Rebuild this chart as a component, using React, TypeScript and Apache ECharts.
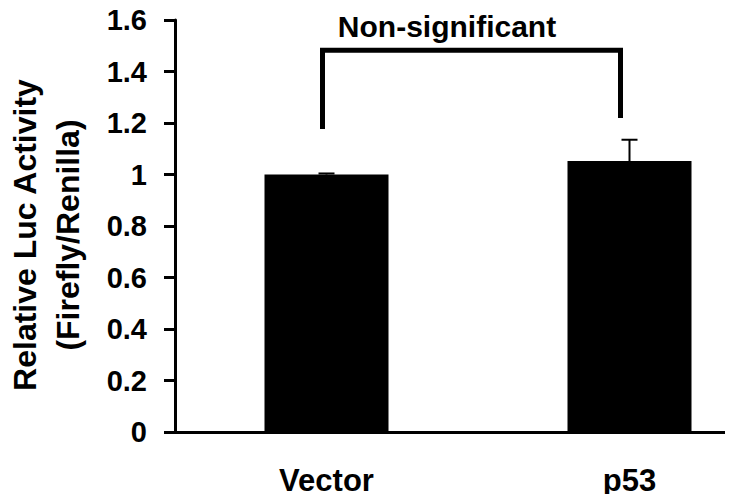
import React, { useEffect, useRef } from "react";
import * as echarts from "echarts";

const categories = ["Vector", "p53"];
const means = [1.0, 1.052];
const errors = [0.004, 0.083];
const yTicks = { min: 0, max: 1.6, interval: 0.2 };
// bracket: [leftCategory, rightCategory, top, leftBottom, rightBottom]
const bracket = [[0, 1, 1.483, 1.177, 1.219]];
const bracketLabel = "Non-significant";
const yName = "Relative Luc Activity\n(Firefly/Renilla)";

const FONT = "'Liberation Sans', Arial, sans-serif";

export default function App() {
  const ref = useRef<HTMLDivElement>(null);
  useEffect(() => {
    if (!ref.current) return;
    const chart = echarts.init(ref.current, undefined, { renderer: "svg" });
    chart.setOption({
      animation: false,
      backgroundColor: "#ffffff",
      grid: {
        left: 175,
        width: 606,
        top: 20,
        bottom: 70,
        containLabel: false,
        outerBoundsMode: "none",
      },
      graphic: [
        {
          type: "text",
          x: 447,
          y: 26,
          style: {
            text: bracketLabel,
            font: `bold 30px ${FONT}`,
            fill: "#000",
            textAlign: "center",
            textVerticalAlign: "middle",
          },
        },
      ],
      xAxis: {
        type: "category",
        data: categories,
        axisLine: { lineStyle: { color: "#000", width: 3 } },
        axisTick: { show: false },
        axisLabel: {
          color: "#000",
          fontFamily: FONT,
          fontWeight: "bold",
          fontSize: 31,
          margin: 33,
        },
      },
      yAxis: {
        type: "value",
        min: yTicks.min,
        max: yTicks.max,
        interval: yTicks.interval,
        name: yName,
        nameLocation: "middle",
        nameRotate: 90,
        nameGap: 86,
        nameTextStyle: {
          color: "#000",
          fontFamily: FONT,
          fontWeight: "bold",
          fontSize: 32,
          lineHeight: 43,
          align: "center",
          padding: [0, 18, 0, 0],
        },
        splitLine: { show: false },
        axisLine: { show: true, lineStyle: { color: "#000", width: 3 } },
        axisTick: { show: true, length: 11, lineStyle: { color: "#000", width: 3 } },
        axisLabel: {
          color: "#000",
          fontFamily: FONT,
          fontWeight: "bold",
          fontSize: 29,
          margin: 28,
        },
      },
      series: [
        {
          type: "bar",
          data: means,
          barWidth: 124,
          itemStyle: { color: "#000" },
          z: 2,
        },
        {
          type: "custom",
          data: means.map((m, i) => [i, m, errors[i]]),
          z: 3,
          renderItem: (params: any, api: any) => {
            const i = api.value(0);
            const m = api.value(1);
            const e = api.value(2);
            const p0 = api.coord([i, m]);
            const p1 = api.coord([i, m + e]);
            return {
              type: "group",
              children: [
                {
                  type: "line",
                  shape: { x1: p0[0], y1: p0[1], x2: p1[0], y2: p1[1] },
                  style: { stroke: "#000", lineWidth: 2 },
                },
                {
                  type: "line",
                  shape: { x1: p1[0] - 8, y1: p1[1], x2: p1[0] + 8, y2: p1[1] },
                  style: { stroke: "#000", lineWidth: 2 },
                },
              ],
            };
          },
        },
        {
          type: "custom",
          data: bracket,
          z: 4,
          renderItem: (params: any, api: any) => {
            const l = api.value(0);
            const r = api.value(1);
            const top = api.value(2);
            const lb = api.value(3);
            const rb = api.value(4);
            const a = api.coord([l, lb]);
            const b = api.coord([l, top]);
            const c = api.coord([r, top]);
            const d = api.coord([r, rb]);
            const lo = -4;
            const ro = -9;
            return {
              type: "polyline",
              shape: {
                points: [
                  [a[0] + lo, a[1]],
                  [b[0] + lo, b[1]],
                  [c[0] + ro, c[1]],
                  [d[0] + ro, d[1]],
                ],
              },
              style: { stroke: "#000", lineWidth: 5, fill: "none", lineJoin: "miter", lineCap: "butt" },
            };
          },
        },
      ],
    });
    return () => chart.dispose();
  }, []);
  return <div ref={ref} style={{ width: 733, height: 502, margin: -8 }} />;
}
